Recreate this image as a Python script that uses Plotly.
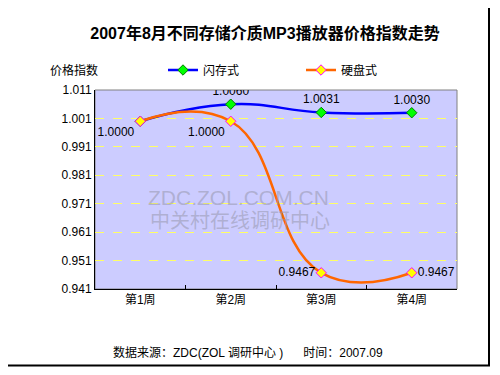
import plotly.graph_objects as go

weeks = ["第1周", "第2周", "第3周", "第4周"]
flash = [1.0000, 1.0060, 1.0031, 1.0030]
hdd = [1.0000, 1.0000, 0.9467, 0.9467]
flash_labels = ["", "1.0060", "1.0031", "1.0030"]
hdd_labels = ["1.0000", "1.0000", "0.9467", "0.9467"]
y_ticks = [0.941, 0.951, 0.961, 0.971, 0.981, 0.991, 1.001, 1.011]

FONT = "Liberation Sans, Arial, Noto Sans CJK SC, sans-serif"
OFF = 8  # page body margin
W, H = 500 - OFF, 375 - 2 * OFF
L, T = 95 - OFF, 90 - OFF
R = W - (457 - OFF)
B = H - (289 - OFF)
pw, ph = W - L - R, H - T - B


def px(x):
    return (x - OFF - L) / pw


def py(y):
    return 1 - (y - OFF - T) / ph


fig = go.Figure()
fig.add_trace(go.Scatter(
    x=weeks, y=flash, name="闪存式", mode="lines+markers+text", legend="legend",
    line=dict(color="#0000FF", width=2.5, shape="spline", smoothing=1.3),
    marker=dict(symbol="diamond", size=8, color="#00FF00", line=dict(color="#008000", width=1)),
    text=flash_labels, textposition="top center",
    textfont=dict(family=FONT, size=12, color="black"),
))
fig.add_trace(go.Scatter(
    x=weeks, y=hdd, name="硬盘式", mode="lines+markers+text", legend="legend2",
    line=dict(color="#FF6600", width=2.5, shape="spline", smoothing=1.3),
    marker=dict(symbol="diamond", size=8, color="#FFFF00", line=dict(color="#FF00FF", width=1)),
    text=hdd_labels, textposition=["bottom left", "bottom left", "middle left", "middle right"],
    textfont=dict(family=FONT, size=12, color="black"),
))

leg_common = dict(orientation="h", xanchor="left", yanchor="middle",
                  bgcolor="rgba(0,0,0,0)", font=dict(size=12), itemwidth=30)

fig.update_layout(
    width=W, height=H,
    margin=dict(l=L, r=R, t=T, b=B),
    paper_bgcolor="white", plot_bgcolor="#CCCCFF",
    font=dict(family=FONT, size=12, color="black"),
    title=dict(text="<b>2007年8月不同存储介质MP3播放器价格指数走势</b>",
               x=(265 - OFF) / W, xanchor="center", y=1 - (33 - OFF) / H, yanchor="middle",
               font=dict(family=FONT, size=16, color="black")),
    showlegend=True,
    legend=dict(x=px(163), y=py(70), **leg_common),
    legend2=dict(x=px(301), y=py(70), **leg_common),
    xaxis=dict(type="category", range=[-0.5, 3.5], showgrid=False,
               showline=True, linecolor="black", linewidth=1,
               ticks="inside", tickson="boundaries", ticklen=4, tickcolor="black",
               tickfont=dict(size=12), zeroline=False),
    yaxis=dict(range=[0.941, 1.011], tickvals=y_ticks,
               ticktext=[f"{v:.3f}" for v in y_ticks],
               showgrid=True, gridcolor="#FFFF66", griddash="dash", gridwidth=1,
               showline=True, linecolor="black", linewidth=1,
               ticks="", tickfont=dict(size=12), zeroline=False),
    shapes=[
        dict(type="rect", xref="paper", yref="paper", x0=0, y0=0, x1=1, y1=1,
             line=dict(color="#808080", width=1), layer="below"),
        dict(type="rect", xref="paper", yref="paper",
             x0=px(-20), x1=px(489), y0=py(OFF + H - 1.5), y1=py(-20),
             line=dict(color="black", width=2)),
    ],
    annotations=[
        dict(text="价格指数", xref="paper", yref="paper", x=px(48), xanchor="left",
             y=py(70), yanchor="middle", showarrow=False, font=dict(size=12)),
        dict(text="ZDC.ZOL.COM.CN", xref="paper", yref="paper", x=px(238),
             y=py(197), yanchor="middle", showarrow=False,
             font=dict(size=21, color="rgba(150,150,172,0.55)")),
        dict(text="中关村在线调研中心", xref="paper", yref="paper", x=px(240),
             y=py(221), yanchor="middle", showarrow=False,
             font=dict(size=20, color="rgba(150,150,172,0.55)")),
        dict(text="数据来源：ZDC(ZOL 调研中心 )      时间：2007.09", xref="paper", yref="paper",
             x=px(248), y=py(352), yanchor="middle", showarrow=False,
             font=dict(size=12)),
    ],
)

fig.write_html("out.html")
